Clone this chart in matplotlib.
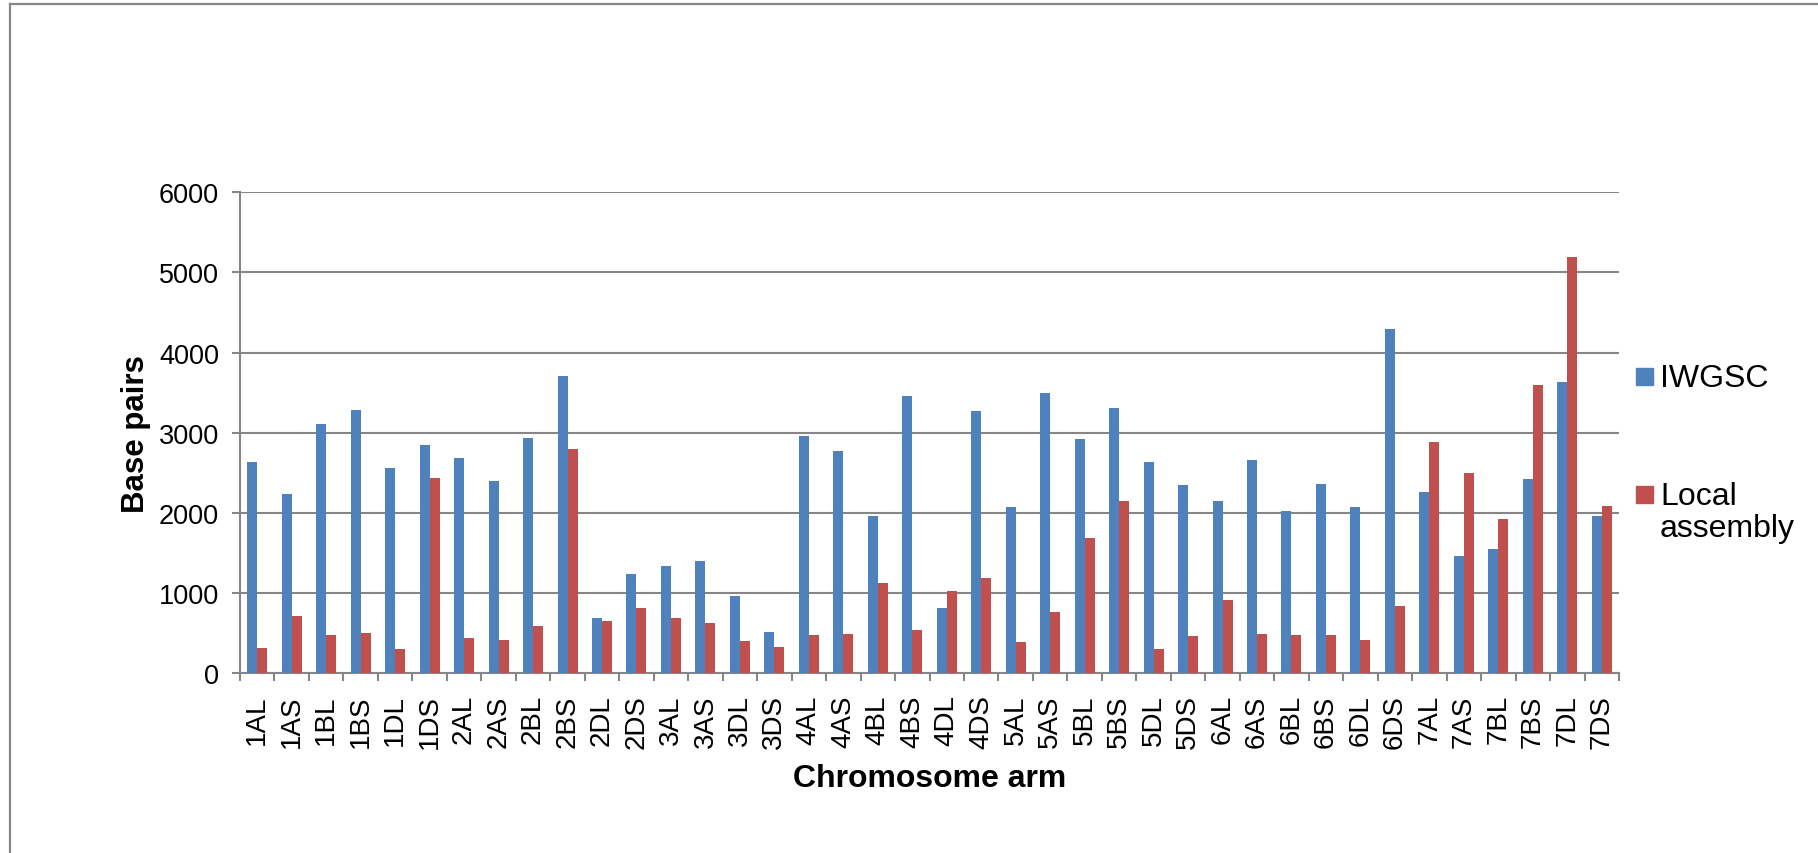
import numpy as np
import matplotlib
matplotlib.use("Agg")
import matplotlib.pyplot as plt
from matplotlib.lines import Line2D
from matplotlib.patches import Rectangle

arms = ["1AL", "1AS", "1BL", "1BS", "1DL", "1DS", "2AL", "2AS", "2BL", "2BS",
        "2DL", "2DS", "3AL", "3AS", "3DL", "3DS", "4AL", "4AS", "4BL", "4BS",
        "4DL", "4DS", "5AL", "5AS", "5BL", "5BS", "5DL", "5DS", "6AL", "6AS",
        "6BL", "6BS", "6DL", "6DS", "7AL", "7AS", "7BL", "7BS", "7DL", "7DS"]

iwgsc = [2630, 2240, 3115, 3285, 2557, 2844, 2686, 2395, 2936, 3709,
         694, 1235, 1343, 1397, 965, 511, 2960, 2773, 1967, 3459,
         811, 3272, 2071, 3501, 2919, 3310, 2640, 2349, 2150, 2661,
         2025, 2362, 2075, 4291, 2266, 1464, 1551, 2424, 3634, 1963]

local_assembly = [310, 715, 474, 503, 300, 2437, 445, 416, 586, 2798,
                  653, 819, 686, 628, 399, 324, 478, 486, 1127, 536,
                  1031, 1189, 387, 765, 1688, 2146, 300, 462, 919, 491,
                  478, 478, 416, 844, 2886, 2495, 1925, 3593, 5189, 2091]

BLUE = "#4F81BD"
RED = "#C0504D"
GRID = "#868686"

plt.rcParams["font.family"] = ["Liberation Sans", "DejaVu Sans"]

fig = plt.figure(figsize=(18.18, 8.54), dpi=100)
ax = fig.add_axes([240 / 1818, 1 - 674.3 / 854, 1379 / 1818, 481 / 854])

x = np.arange(len(arms))
w = 0.29
ax.bar(x - w / 2, iwgsc, w, color=BLUE, zorder=3)
ax.bar(x + w / 2, local_assembly, w, color=RED, zorder=3)

ax.set_xlim(-0.5, len(arms) - 0.5)
ax.set_ylim(0, 6000)
ax.set_yticks(range(0, 6001, 1000))
ax.yaxis.grid(True, color=GRID, linewidth=1.5, zorder=0)

# category labels at centres, tick marks on the boundaries
ax.set_xticks(x)
ax.set_xticklabels(arms, rotation=90, fontsize=20)
ax.set_xticks(np.arange(-0.5, len(arms)), minor=True)
ax.tick_params(axis="x", which="major", length=0, pad=15)
ax.tick_params(axis="x", which="minor", length=6, width=1.5, color=GRID)
ax.tick_params(axis="y", length=6, width=1.5, color=GRID, labelsize=19.5, pad=9)

for side in ("top", "right"):
    ax.spines[side].set_visible(False)
for side in ("left", "bottom"):
    ax.spines[side].set_color(GRID)
    ax.spines[side].set_linewidth(1.5)

ax.set_ylabel("Base pairs", fontsize=22.5, fontweight="bold", labelpad=6)
ax.set_xlabel("Chromosome arm", fontsize=23, fontweight="bold", labelpad=11)

# legend on the right
def px(xp, yp):
    return xp / 1818, 1 - yp / 854

for (ytop, color, label) in [(369.3, BLUE, "IWGSC"), (486.7, RED, "Local\nassembly")]:
    fx, fy = px(1636, ytop + 17)
    fig.add_artist(Rectangle((fx, fy), 17 / 1818, 17 / 854, color=color,
                             transform=fig.transFigure))
    tx, ty = px(1660, ytop - 5)
    fig.text(tx, ty, label, fontsize=23, va="top", ha="left", linespacing=1.1)

# chart frame
fig.add_artist(Line2D([9.5 / 1818, 9.5 / 1818], [0, 1 - 5 / 854],
                      color="#888888", linewidth=1.6, transform=fig.transFigure))
fig.add_artist(Line2D([9.5 / 1818, 1], [1 - 5 / 854, 1 - 5 / 854],
                      color="#888888", linewidth=1.6, transform=fig.transFigure))

fig.savefig("out.png", dpi=100)
